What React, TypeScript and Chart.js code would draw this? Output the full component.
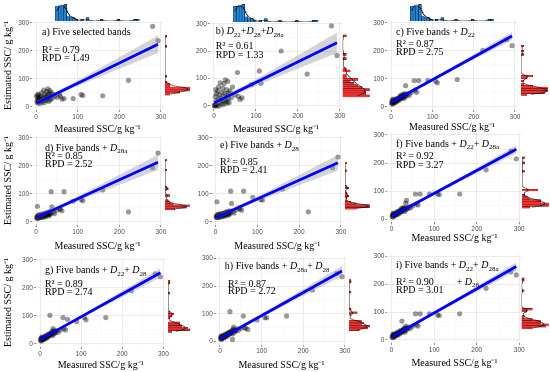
import { useEffect, useRef } from 'react';
import { Chart, registerables } from 'chart.js';

Chart.register(...registerables);

// ---------------- data ----------------
const MEASURED = [
  1, 2, 3, 3, 4, 5, 5, 6, 6,
  8, 9, 10, 11, 12, 13, 14, 15, 16,
  18, 19, 20, 21, 22, 23, 24, 25, 26,
  27, 28, 29, 30, 31, 32, 33, 34, 35, 36,
  38, 41, 44,
  50, 56,
  58, 62, 67, 89, 108, 112, 160, 222, 280, 293,
];

const EST_A = [
  38, 20, 42, 15, 30, 25, 45, 18, 33,
  28, 12, 40, 22, 35, 50, 18, 30, 25,
  60, 15, 32, 45, 28, 38, 22, 55, 35,
  30, 65, 42, 20, 48, 35, 58, 25, 40, 52,
  30, 45, 38,
  35, 44,
  38, 28, 30, 30, 44, 41, 40, 95, 288, 237,
];
const EST_B = [
  2, 0, 35, 5, 60, 0, 20, 45, 10,
  3, 55, 25, 70, 0, 40, 15, 85, 30,
  8, 50, 20, 65, 5, 35, 82, 18, 45,
  96, 25, 10, 60, 38, 15, 90, 28, 48, 12,
  55, 30, 69,
  40, 122,
  35, 24, 30, 78, 128, 83, 201, 117, 293, 185,
];
const EST_C = [
  12, 20, 15, 25, 10, 18, 28, 14, 22,
  20, 15, 25, 18, 28, 22, 30, 20, 26,
  30, 24, 35, 28, 38, 30, 42, 32, 36,
  40, 34, 45, 38, 30, 42, 48, 36, 76, 44,
  40, 48, 42,
  52, 94,
  60, 52, 94, 94, 92, 86, 98, 202, 240, 219,
];
const EST_D = [
  15, 20, 12, 56, 18, 22, 14, 25, 16,
  20, 15, 24, 18, 22, 28, 16, 25, 20,
  28, 22, 18, 30, 25, 20, 32, 26, 28,
  24, 30, 35, 22, 28, 32, 26, 38, 30, 108,
  54, 35, 30,
  42, 48,
  45, 40, 108, 74, 80, 76, 114, 36, 194, 246,
];
const EST_E = [
  18, 22, 15, 72, 20, 25, 16, 28, 18,
  22, 18, 26, 20, 24, 30, 18, 28, 22,
  30, 25, 20, 32, 28, 22, 35, 28, 30,
  26, 32, 38, 24, 30, 35, 28, 40, 32, 110,
  66, 38, 32,
  44, 50,
  46, 42, 110, 88, 80, 78, 118, 36, 194, 232,
];
const EST_F = [
  10, 15, 12, 20, 8, 16, 22, 14, 18,
  18, 14, 22, 16, 25, 20, 28, 18, 24,
  28, 22, 32, 26, 35, 28, 40, 30, 34,
  38, 32, 42, 36, 28, 40, 58, 35, 67, 42,
  38, 45, 40,
  48, 90,
  55, 51, 90, 90, 90, 88, 90, 176, 243, 215,
];
const EST_G = [
  12, 18, 15, 22, 10, 18, 25, 15, 20,
  20, 16, 24, 18, 26, 22, 30, 20, 25,
  30, 24, 34, 28, 36, 30, 102, 32, 36,
  40, 34, 45, 38, 30, 55, 48, 36, 42, 44,
  40, 48, 42,
  50, 94,
  55, 50, 88, 80, 94, 86, 94, 190, 250, 240,
];
const EST_H = [
  10, 16, 12, 20, 8, 15, 22, 12, 18,
  18, 14, 22, 16, 25, 20, 28, 18, 24,
  28, 22, 32, 26, 34, 28, 108, 30, 34,
  38, 32, 40, 8, 28, 45, 52, 35, 42, 40,
  38, 46, 40,
  48, 92,
  50, 48, 44, 78, 86, 86, 92, 186, 245, 234,
];
const EST_I = [
  10, 15, 12, 20, 8, 15, 22, 12, 18,
  18, 14, 22, 16, 25, 20, 28, 18, 24,
  28, 22, 32, 26, 35, 28, 68, 30, 34,
  38, 32, 42, 36, 28, 40, 50, 35, 42, 44,
  40, 46, 42,
  50, 94,
  55, 50, 94, 94, 90, 88, 94, 186, 245, 234,
];

const ESTIMATED = [EST_A, EST_B, EST_C, EST_D, EST_E, EST_F, EST_G, EST_H, EST_I];

const R2 = [0.79, 0.61, 0.87, 0.85, 0.85, 0.92, 0.89, 0.87, 0.9];
const RPD = [1.49, 1.33, 2.75, 2.52, 2.41, 3.27, 2.74, 2.72, 3.01];
const INTERCEPTS = [12.6, 11, 16, 15.3, 15.3, 10.6, 15.4, 10.7, 10.6];
const SLOPES = [0.722, 0.75, 0.81, 0.675, 0.67, 0.814, 0.815, 0.832, 0.866];

const AXIS_TICKS = [0, 100, 200, 300];
const X_TITLE = 'Measured SSC/g kg\u207B\u00B9';
const Y_TITLE = 'Estimated SSC/ g kg\u207B\u00B9';
const X_RANGE = [-10, 305];
const Y_RANGE = [-11, 307];
const BIN_COUNT = 30;

type Seg = [string, 'n' | 'i' | 's'];
const D = (s: string): Seg[] => [['D', 'i'], [s, 's']];
const LABELS: Seg[][] = [
  [['a) Five selected bands', 'n']],
  [['b) ', 'n'], ...D('22'), ['+', 'n'], ...D('28'), ['+', 'n'], ...D('28a')],
  [['c) Five bands + ', 'n'], ...D('22')],
  [['d) Five bands + ', 'n'], ...D('28a')],
  [['e) Five bands + ', 'n'], ...D('28')],
  [['f) Five bands + ', 'n'], ...D('22'), ['+ ', 'n'], ...D('28a')],
  [['g) Five bands + ', 'n'], ...D('22'), ['+ ', 'n'], ...D('28')],
  [['h) Five bands + ', 'n'], ...D('28a'), ['+ ', 'n'], ...D('28')],
  [['i) Five bands + ', 'n'], ...D('22'), ['+ ', 'n'], ...D('28a')],
];
const EXTRA_LABELS: (Seg[] | null)[] = [null, null, null, null, null, null, null, null, [['+ ', 'n'], ...D('28')]];

// ---------------- layout (pixels) ----------------
type Geo = {
  L: number; R: number; T: number; B: number; titleY: number;
  hL: number; hR: number; top: boolean; yTitle: boolean;
  txt: number[][]; extra?: number[];
};
const GEOM: Geo[] = [
  { L: 32, R: 163, T: 21, B: 110, titleY: 129, hL: 165, hR: 190, top: true, yTitle: true, txt: [[10, 14], [10, 31.7], [10, 40]] },
  { L: 209.8, R: 342, T: 22, B: 109, titleY: 129, hL: 342.5, hR: 370, top: true, yTitle: false, txt: [[6, 12.3], [6, 27.3], [6, 36.3]] },
  { L: 387, R: 517, T: 21, B: 110, titleY: 127.5, hL: 521, hR: 548, top: true, yTitle: false, txt: [[9, 14], [9, 25.7], [9, 34]] },
  { L: 32, R: 163, T: 136, B: 225, titleY: 246.5, hL: 165, hR: 190, top: false, yTitle: true, txt: [[13, 14.7], [13, 23], [13, 31.3]] },
  { L: 211.5, R: 343, T: 136, B: 225, titleY: 246, hL: 345, hR: 370, top: false, yTitle: false, txt: [[8.5, 12.3], [8.5, 29], [8.5, 37.3]] },
  { L: 387.4, R: 521.4, T: 133, B: 222.4, titleY: 238, hL: 522, hR: 549, top: false, yTitle: false, txt: [[8.6, 13.7], [8.6, 26.3], [8.6, 35.3]] },
  { L: 35.9, R: 165.4, T: 258, B: 347, titleY: 365, hL: 168, hR: 190, top: false, yTitle: true, txt: [[9, 15.3], [9, 28.7], [9, 37]] },
  { L: 215.8, R: 347, T: 256.4, B: 344.7, titleY: 365, hL: 349, hR: 370, top: false, yTitle: false, txt: [[9, 13], [12.3, 30.3], [12.3, 37.6]] },
  { L: 387.4, R: 521.4, T: 254.7, B: 343, titleY: 363, hL: 521.5, hR: 549, top: false, yTitle: false, txt: [[8.6, 13.6], [8.6, 30.3], [8.6, 38.6]], extra: [69.3, 30.3] },
];

const SERIF = '"Liberation Serif", "Times New Roman", serif';
const SANS = '"Liberation Sans", Arial, sans-serif';
const BLUE_FILL = '#1f84d6';
const RED_FILL = '#ff3030';
const PAGE_W = 550;
const PAGE_H = 372;

// ---------------- helpers ----------------
const mean = (a: number[]) => a.reduce((s, v) => s + v, 0) / a.length;

function histogram(vals: number[]) {
  const lo = Math.min(...vals);
  const hi = Math.max(...vals);
  const w = (hi - lo) / (BIN_COUNT - 1);
  const counts = new Array(BIN_COUNT).fill(0);
  vals.forEach((v) => {
    const k = Math.min(BIN_COUNT - 1, Math.max(0, Math.round((v - lo) / w)));
    counts[k] += 1;
  });
  return { w, bins: counts.map((n, k) => ({ c: lo + k * w, n })) };
}

function quantile(sorted: number[], p: number) {
  const h = (sorted.length - 1) * p;
  const lo = Math.floor(h);
  const hi = Math.min(lo + 1, sorted.length - 1);
  return sorted[lo] + (h - lo) * (sorted[hi] - sorted[lo]);
}

function density(vals: number[], w: number) {
  const n = vals.length;
  const m = mean(vals);
  const sd = Math.sqrt(vals.reduce((s, v) => s + (v - m) * (v - m), 0) / (n - 1));
  const s = [...vals].sort((a, b) => a - b);
  const iqr = quantile(s, 0.75) - quantile(s, 0.25);
  const bw = 0.9 * Math.min(sd, iqr / 1.34) * Math.pow(n, -0.2);
  const lo = s[0];
  const hi = s[n - 1];
  const out: { v: number; d: number }[] = [];
  for (let k = 0; k <= 200; k++) {
    const x = lo + ((hi - lo) * k) / 200;
    let d = 0;
    for (const v of vals) {
      const z = (x - v) / bw;
      d += Math.exp(-0.5 * z * z);
    }
    d /= n * bw * Math.sqrt(2 * Math.PI);
    out.push({ v: x, d: d * n * w });
  }
  return out;
}

function drawRich(ctx: CanvasRenderingContext2D, segs: Seg[], x: number, y: number) {
  let cx = x;
  ctx.fillStyle = '#000';
  ctx.textBaseline = 'alphabetic';
  ctx.textAlign = 'left';
  for (const [t, st] of segs) {
    const size = st === 's' ? 7 : 10;
    ctx.font = `${st === 'i' ? 'italic ' : ''}${size}px ${SERIF}`;
    ctx.fillText(t, cx, st === 's' ? y + 2.3 : y);
    cx += ctx.measureText(t).width;
  }
}

const GRID_VALUES = (() => {
  const out: number[] = [];
  AXIS_TICKS.forEach((v, k) => {
    out.push(v);
    if (k < AXIS_TICKS.length - 1) out.push((v + AXIS_TICKS[k + 1]) / 2);
  });
  return out;
})();
const isMajor = (v: number | undefined) => v !== undefined && AXIS_TICKS.includes(v);

function axisCommon(min: number, max: number) {
  return {
    type: 'linear' as const,
    min,
    max,
    afterBuildTicks: (s: any) => {
      s.ticks = GRID_VALUES.map((v) => ({ value: v }));
    },
    border: { display: false },
    grid: {
      color: (c: any) => (isMajor(c.tick?.value) ? '#e3e3e3' : '#f1f1f1'),
      lineWidth: (c: any) => (isMajor(c.tick?.value) ? 0.7 : 0.45),
      tickColor: (c: any) => (isMajor(c.tick?.value) ? '#444' : 'rgba(0,0,0,0)'),
      tickLength: 2,
      tickWidth: 0.6,
    },
    ticks: {
      autoSkip: false,
      maxRotation: 0,
      padding: 1,
      color: '#4d4d4d',
      font: { family: SANS, size: 6.5 },
      callback: (v: any) => (isMajor(Number(v)) ? String(v) : ''),
    },
  };
}

function mainConfig(i: number): any {
  const g = GEOM[i];
  const xs = MEASURED;
  const ys = ESTIMATED[i];
  const a = INTERCEPTS[i];
  const b = SLOPES[i];
  const n = xs.length;
  const xbar = mean(xs);
  const sxx = xs.reduce((s, v) => s + (v - xbar) * (v - xbar), 0);
  const sres = Math.sqrt(xs.reduce((s, v, k) => s + Math.pow(ys[k] - a - b * v, 2), 0) / (n - 2));
  const tcrit = 2.01;
  const xmin = Math.min(...xs);
  const xmax = Math.max(...xs);
  const lower: { x: number; y: number }[] = [];
  const upper: { x: number; y: number }[] = [];
  for (let k = 0; k <= 60; k++) {
    const x = xmin + ((xmax - xmin) * k) / 60;
    const f = a + b * x;
    const se = sres * Math.sqrt(1 / n + ((x - xbar) * (x - xbar)) / sxx);
    lower.push({ x, y: f - tcrit * se });
    upper.push({ x, y: f + tcrit * se });
  }
  const fitLine = [
    { x: xmin, y: a + b * xmin },
    { x: xmax, y: a + b * xmax },
  ];
  const pts = xs.map((x, k) => ({ x, y: ys[k] }));
  const yW = g.yTitle ? g.L : 17;
  const xH = g.titleY - g.B + 6;

  const annot = {
    id: 'annot' + i,
    afterDatasetsDraw(chart: any) {
      const { left, top } = chart.chartArea;
      const ctx = chart.ctx as CanvasRenderingContext2D;
      ctx.save();
      drawRich(ctx, LABELS[i], left + g.txt[0][0], top + g.txt[0][1]);
      drawRich(ctx, [['R\u00B2 = ' + R2[i].toFixed(2), 'n']], left + g.txt[1][0], top + g.txt[1][1]);
      drawRich(ctx, [['RPD = ' + RPD[i].toFixed(2), 'n']], left + g.txt[2][0], top + g.txt[2][1]);
      const ex = EXTRA_LABELS[i];
      if (ex && g.extra) drawRich(ctx, ex, left + g.extra[0], top + g.extra[1]);
      ctx.restore();
    },
  };

  const xAxis: any = axisCommon(X_RANGE[0], X_RANGE[1]);
  xAxis.afterFit = (s: any) => {
    s.height = xH;
    s.paddingLeft = 0;
    s.paddingRight = 0;
  };
  xAxis.title = {
    display: true,
    text: X_TITLE,
    color: '#000',
    font: { family: SERIF, size: 10 },
    padding: { top: 0, bottom: 0 },
  };
  const yAxis: any = axisCommon(Y_RANGE[0], Y_RANGE[1]);
  yAxis.afterFit = (s: any) => {
    s.width = yW;
    s.paddingTop = 0;
    s.paddingBottom = 0;
  };
  yAxis.title = {
    display: g.yTitle,
    text: Y_TITLE,
    color: '#000',
    font: { family: SERIF, size: 10 },
    padding: { top: 2.5, bottom: 0 },
  };

  return {
    type: 'scatter',
    data: {
      datasets: [
        { type: 'line', data: fitLine, borderColor: '#0000ff', borderWidth: 2.8, pointRadius: 0, showLine: true, fill: false, order: 0 },
        { type: 'line', data: upper, borderColor: 'rgba(0,0,0,0)', borderWidth: 0, pointRadius: 0, showLine: true, fill: '+1', backgroundColor: 'rgba(153,153,153,0.42)', order: 1 },
        { type: 'line', data: lower, borderColor: 'rgba(0,0,0,0)', borderWidth: 0, pointRadius: 0, showLine: true, fill: false, order: 2 },
        { type: 'scatter', data: pts, pointRadius: 2.6, backgroundColor: 'rgba(0,0,0,0.4)', borderWidth: 0, order: 3 },
      ],
    },
    options: {
      responsive: false,
      animation: false,
      events: [],
      layout: { padding: { left: g.L - yW, top: g.T, right: PAGE_W - g.R, bottom: PAGE_H - g.B - xH } },
      plugins: { legend: { display: false }, tooltip: { enabled: false } },
      scales: { x: xAxis, y: yAxis },
    },
    plugins: [annot],
  };
}

function topHistConfig(i: number): any {
  const g = GEOM[i];
  const { w, bins } = histogram(MEASURED);
  const dens = density(MEASURED, w);
  const ymax = Math.max(...bins.map((b) => b.n), ...dens.map((d) => d.d)) * 1.02;
  return {
    type: 'bar',
    data: {
      datasets: [
        { type: 'line', data: dens.map((d) => ({ x: d.v, y: d.d })), borderColor: '#000', borderWidth: 0.7, pointRadius: 0, fill: false, order: 0 },
        { type: 'bar', data: bins.map((b) => ({ x: b.c, y: b.n })), backgroundColor: BLUE_FILL, borderColor: '#000', borderWidth: 0.45, barPercentage: 1, categoryPercentage: 1, order: 1 },
      ],
    },
    options: {
      responsive: false,
      animation: false,
      events: [],
      layout: { padding: { left: g.L, right: PAGE_W - g.R, top: 4, bottom: PAGE_H - g.T } },
      plugins: { legend: { display: false }, tooltip: { enabled: false } },
      scales: {
        x: { type: 'linear', min: X_RANGE[0], max: X_RANGE[1], display: false },
        y: { type: 'linear', min: 0, max: ymax, display: false },
      },
    },
  };
}

function rightHistConfig(i: number): any {
  const g = GEOM[i];
  const vals = ESTIMATED[i];
  const { w, bins } = histogram(vals);
  const dens = density(vals, w);
  const xmax = Math.max(...bins.map((b) => b.n), ...dens.map((d) => d.d)) * 1.02;
  return {
    type: 'bar',
    data: {
      datasets: [
        { type: 'line', data: dens.map((d) => ({ x: d.d, y: d.v })), borderColor: '#000', borderWidth: 0.6, pointRadius: 0, fill: false, order: 0 },
        { type: 'bar', data: bins.map((b) => ({ x: b.n, y: b.c })), backgroundColor: RED_FILL, borderColor: '#111', borderWidth: 0.35, barPercentage: 1, categoryPercentage: 1, order: 1 },
      ],
    },
    options: {
      indexAxis: 'y',
      responsive: false,
      animation: false,
      events: [],
      layout: { padding: { left: g.hL, right: PAGE_W - g.hR, top: g.T, bottom: PAGE_H - g.B } },
      plugins: { legend: { display: false }, tooltip: { enabled: false } },
      scales: {
        x: { type: 'linear', min: 0, max: xmax, display: false },
        y: { type: 'linear', min: Y_RANGE[0], max: Y_RANGE[1], display: false },
      },
    },
  };
}

export default function App() {
  const mainRefs = useRef<(HTMLCanvasElement | null)[]>([]);
  const rightRefs = useRef<(HTMLCanvasElement | null)[]>([]);
  const topRefs = useRef<(HTMLCanvasElement | null)[]>([]);

  useEffect(() => {
    const charts: Chart[] = [];
    GEOM.forEach((g, i) => {
      const r = rightRefs.current[i];
      if (r) charts.push(new Chart(r, rightHistConfig(i)));
      if (g.top) {
        const t = topRefs.current[i];
        if (t) charts.push(new Chart(t, topHistConfig(i)));
      }
      const m = mainRefs.current[i];
      if (m) charts.push(new Chart(m, mainConfig(i)));
    });
    return () => charts.forEach((c) => c.destroy());
  }, []);

  const cs: React.CSSProperties = { position: 'absolute', left: 0, top: 0, width: PAGE_W, height: PAGE_H };
  return (
    <div style={{ position: 'absolute', left: 0, top: 0, width: PAGE_W, height: PAGE_H, background: '#fff', overflow: 'hidden' }}>
      {GEOM.map((g, i) => (
        <canvas key={'r' + i} ref={(el) => { rightRefs.current[i] = el; }} width={PAGE_W} height={PAGE_H} style={cs} />
      ))}
      {GEOM.map((g, i) =>
        g.top ? <canvas key={'t' + i} ref={(el) => { topRefs.current[i] = el; }} width={PAGE_W} height={PAGE_H} style={cs} /> : null
      )}
      {GEOM.map((g, i) => (
        <canvas key={'m' + i} ref={(el) => { mainRefs.current[i] = el; }} width={PAGE_W} height={PAGE_H} style={cs} />
      ))}
    </div>
  );
}
